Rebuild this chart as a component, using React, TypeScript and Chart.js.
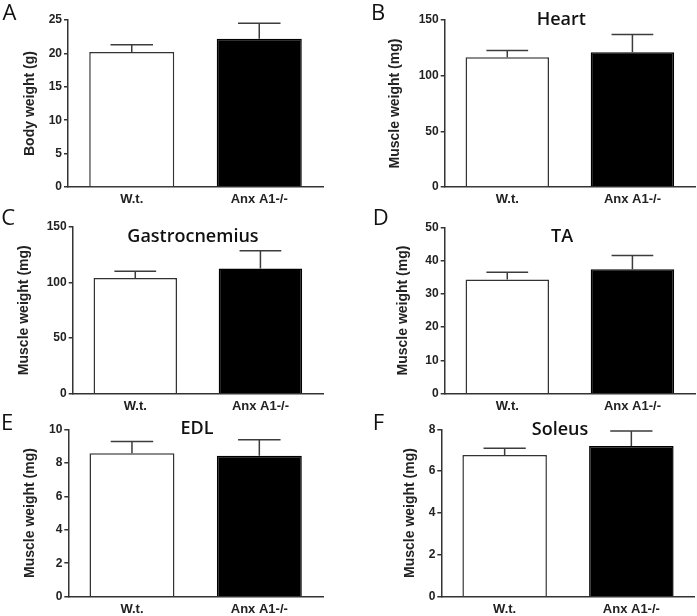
import React, { useEffect, useRef } from "react";
import { Chart, registerables } from "chart.js";

Chart.register(...registerables);

// ---- Data ----
const categories = ["W.t.", "Anx A1-/-"];

const bodyWeight = [20.2, 22.2];
const bodyWeightSem = [1.1, 2.3];

const heart = [116.5, 121];
const heartSem = [6, 16];

const gastrocnemius = [104, 112.5];
const gastrocnemiusSem = [6, 16];

const ta = [34.3, 37.4];
const taSem = [2.2, 4.1];

const edl = [8.57, 8.42];
const edlSem = [0.7, 0.96];

const soleus = [6.77, 7.2];
const soleusSem = [0.32, 0.72];

const yMaxValues = [25, 150, 150, 50, 10, 8];
const yStepValues = [5, 50, 50, 10, 2, 2];
const yAxisTitles = [
  "Body weight (g)",
  "Muscle weight (mg)",
  "Muscle weight (mg)",
  "Muscle weight (mg)",
  "Muscle weight (mg)",
  "Muscle weight (mg)",
];
const panelLetters = ["A", "B", "C", "D", "E", "F"];
const panelTitles = ["", "Heart", "Gastrocnemius", "TA", "EDL", "Soleus"];

const seriesValues = [bodyWeight, heart, gastrocnemius, ta, edl, soleus];
const seriesErrors = [bodyWeightSem, heartSem, gastrocnemiusSem, taSem, edlSem, soleusSem];

// ---- Layout (positions / sizes only) ----
type Layout = {
  left: number; top: number; w: number; h: number;
  areaLeft: number; areaTop: number; areaRight: number; areaBottom: number;
  titleCenter: number;
  letterX: number; letterBase: number;
  headX: number; headBase: number;
};

const layouts: Layout[] = [
  { left: 0, top: 0, w: 348, h: 205, areaLeft: 68, areaTop: 20, areaRight: 323, areaBottom: 187, titleCenter: 30, letterX: 2.5, letterBase: 20, headX: 0, headBase: 0 },
  { left: 348, top: 0, w: 349, h: 205, areaLeft: 96.7, areaTop: 20, areaRight: 347, areaBottom: 187, titleCenter: 46.7, letterX: 371, letterBase: 20, headX: 561.3, headBase: 25 },
  { left: 0, top: 205, w: 348, h: 205, areaLeft: 72.7, areaTop: 21.7, areaRight: 323, areaBottom: 188.7, titleCenter: 24, letterX: 1.3, letterBase: 225, headX: 193, headBase: 241.7 },
  { left: 348, top: 205, w: 349, h: 205, areaLeft: 96.7, areaTop: 22.3, areaRight: 347, areaBottom: 188.7, titleCenter: 55, letterX: 372.7, letterBase: 225, headX: 562, headBase: 241.7 },
  { left: 0, top: 410, w: 348, h: 206, areaLeft: 68.3, areaTop: 19.3, areaRight: 323, areaBottom: 186.7, titleCenter: 30, letterX: 1, letterBase: 430, headX: 197, headBase: 434.3 },
  { left: 348, top: 410, w: 349, h: 206, areaLeft: 93.3, areaTop: 19.3, areaRight: 346.7, areaBottom: 186.7, titleCenter: 61.7, letterX: 372.7, letterBase: 430, headX: 560, headBase: 435 },
];

const AXIS = "#333333";
const TEXT = "#222222";

const errorBarPlugin = {
  id: "errorBars",
  afterDatasetsDraw(chart: any, _args: any, opts: any) {
    const errs: number[] = opts && opts.errors;
    if (!errs) return;
    const ctx = chart.ctx;
    const yScale = chart.scales.y;
    const meta = chart.getDatasetMeta(0);
    const vals = chart.data.datasets[0].data as number[];
    ctx.save();
    ctx.strokeStyle = "#3c3c3c";
    ctx.lineWidth = 1.5;
    meta.data.forEach((el: any, i: number) => {
      const top = yScale.getPixelForValue(vals[i] + errs[i]);
      const half = el.width * 0.25;
      ctx.beginPath();
      ctx.moveTo(el.x, el.y);
      ctx.lineTo(el.x, top);
      ctx.moveTo(el.x - half, top);
      ctx.lineTo(el.x + half, top);
      ctx.stroke();
    });
    ctx.restore();
  },
};

const TITLE_FONT_SIZE = 14;
const TITLE_LINE = TITLE_FONT_SIZE * 1.2;

function Panel({ index }: { index: number }) {
  const ref = useRef<HTMLCanvasElement | null>(null);
  const L = layouts[index];
  useEffect(() => {
    if (!ref.current) return;
    const chart = new Chart(ref.current, {
      type: "bar",
      data: {
        labels: categories,
        datasets: [
          {
            data: seriesValues[index],
            backgroundColor: ["#ffffff", "#000000"],
            borderColor: [AXIS, "#000000"],
            borderWidth: 1.5,
            barPercentage: 0.667,
            categoryPercentage: 1,
          },
        ],
      },
      options: {
        responsive: false,
        animation: false,
        devicePixelRatio: 1,
        layout: {
          padding: { left: 0, top: L.areaTop, right: L.w - L.areaRight, bottom: 0 },
        },
        plugins: {
          legend: { display: false },
          tooltip: { enabled: false },
          errorBars: { errors: seriesErrors[index] },
        } as any,
        scales: {
          x: {
            type: "category",
            grid: { display: false, drawTicks: false, tickLength: 0 },
            border: { display: true, color: AXIS, width: 1.5 },
            ticks: {
              color: TEXT,
              padding: 5,
              font: { family: "'Liberation Sans', Arial, sans-serif", size: 13, weight: "bold" },
            },
            afterFit: (s: any) => {
              s.height = L.h - L.areaBottom;
            },
          },
          y: {
            type: "linear",
            min: 0,
            max: yMaxValues[index],
            grid: {
              display: true,
              drawOnChartArea: false,
              drawTicks: true,
              tickLength: 4,
              color: AXIS,
              lineWidth: 1.5,
            },
            border: { display: true, color: AXIS, width: 1.5 },
            ticks: {
              stepSize: yStepValues[index],
              color: TEXT,
              padding: 2,
              font: { family: "'Liberation Sans', Arial, sans-serif", size: 12, weight: "bold" },
            },
            title: {
              display: true,
              text: yAxisTitles[index],
              color: TEXT,
              padding: { top: L.titleCenter - TITLE_LINE / 2, bottom: 0 },
              font: { family: "'Liberation Sans', Arial, sans-serif", size: TITLE_FONT_SIZE, weight: "bold", lineHeight: 1.2 },
            },
            afterFit: (s: any) => {
              s.width = L.areaLeft;
            },
          },
        },
      } as any,
      plugins: [errorBarPlugin as any],
    });
    return () => chart.destroy();
  }, [index]);

  return (
    <canvas
      ref={ref}
      width={L.w}
      height={L.h}
      style={{ position: "absolute", left: L.left, top: L.top, width: L.w, height: L.h }}
    />
  );
}

const LETTER_SIZE = 22;
const HEAD_SIZE = 18;

export default function App() {
  return (
    <div style={{ position: "absolute", left: 0, top: 0, width: 697, height: 616, background: "#fff", overflow: "hidden" }}>
      {layouts.map((_, i) => (
        <Panel key={"p" + i} index={i} />
      ))}
      {layouts.map((L, i) => (
        <div
          key={"l" + i}
          style={{
            position: "absolute",
            left: L.letterX,
            top: L.letterBase - 0.888 * LETTER_SIZE,
            fontFamily: "'Open Sans', sans-serif",
            fontSize: LETTER_SIZE,
            lineHeight: 1,
            color: "#111",
            whiteSpace: "nowrap",
          }}
        >
          {panelLetters[i]}
        </div>
      ))}
      {layouts.map((L, i) =>
        panelTitles[i] ? (
          <div
            key={"t" + i}
            style={{
              position: "absolute",
              left: L.headX,
              top: L.headBase - 0.888 * HEAD_SIZE,
              transform: "translateX(-50%)",
              fontFamily: "'Open Sans', sans-serif",
              fontWeight: 600,
              fontSize: HEAD_SIZE,
              lineHeight: 1,
              color: "#111",
              whiteSpace: "nowrap",
            }}
          >
            {panelTitles[i]}
          </div>
        ) : null
      )}
    </div>
  );
}
